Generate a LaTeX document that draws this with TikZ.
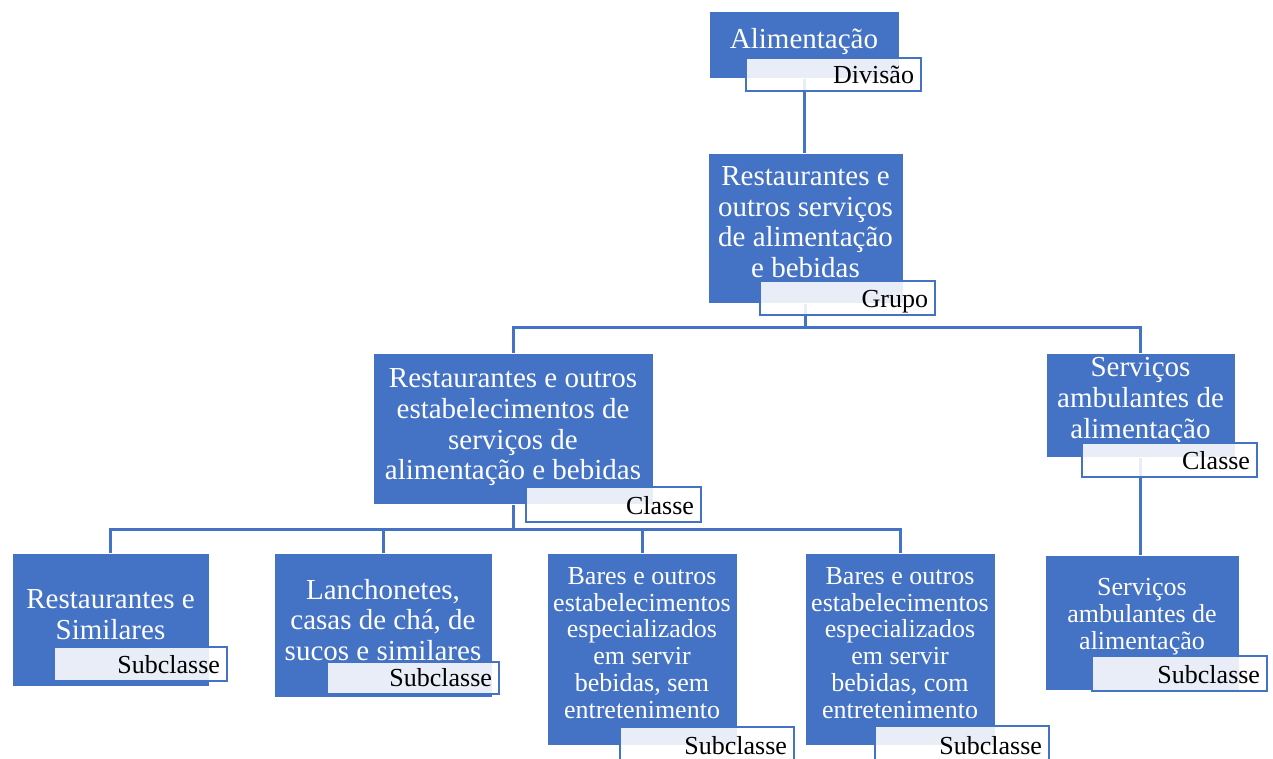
\documentclass[tikz,border=0pt]{standalone}
\usepackage{fontspec}
\setmainfont{Liberation Serif}
\usepackage{tikz}
\usetikzlibrary{fit}
\usetikzlibrary{backgrounds}

\definecolor{catblue}{HTML}{4472C4}

\tikzset{
		catbox/.style={draw=white, line width=1pt, fill=catblue, inner sep=0pt},
		cattext/.style={text=white, align=center, inner sep=0pt, font=\fontsize{29}{30.7}\selectfont},
		smalltxt/.style={font=\fontsize{26}{26.8}\selectfont},
		levelbox/.style={draw=catblue, line width=2.4pt, fill=white, fill opacity=0.88, inner sep=0pt},
		leveltext/.style={font=\fontsize{26}{28}\selectfont, text=black, inner sep=0pt, anchor=base east},
		link/.style={draw=catblue, line width=3pt}
}

\begin{document}
\begin{tikzpicture}[x=1pt, y=-1pt]
		\useasboundingbox (0,0) rectangle (1273,758);
		% caixas de categoria
		\node[catbox, fit={(709,11)(899,78)}](div){};
		\node[cattext](div-t) at ([yshift=3pt]div.center) {Alimentação};
		\node[catbox, fit={(708,153)(903,303)}](grp){};
		\node[cattext](grp-t) at ([yshift=6pt]grp.center) {Restaurantes e\\outros serviços\\de alimentação\\e bebidas};
		\node[catbox, fit={(373,353)(653,504)}](cls1){};
		\node[cattext](cls1-t) at ([yshift=1pt]cls1.center) {Restaurantes e outros\\estabelecimentos de\\serviços de\\alimentação e bebidas};
		\node[catbox, fit={(1046,353)(1235,457)}](cls2){};
		\node[cattext](cls2-t) at ([yshift=4pt]cls2.center) {Serviços\\ambulantes de\\alimentação};
		\node[catbox, fit={(12,553)(209,686)}](sub1){};
		\node[cattext](sub1-t) at ([yshift=5pt]sub1.center) {Restaurantes e\\Similares};
		\node[catbox, fit={(274,553)(492,697)}](sub2){};
		\node[cattext](sub2-t) at ([yshift=5pt]sub2.center) {Lanchonetes,\\casas de chá, de\\sucos e similares};
		\node[catbox, fit={(547,553)(737,745)}](sub3){};
		\node[cattext, smalltxt](sub3-t) at ([yshift=6pt]sub3.center) {Bares e outros\\estabelecimentos\\especializados\\em servir\\bebidas, sem\\entretenimento};
		\node[catbox, fit={(805,553)(995,745)}](sub4){};
		\node[cattext, smalltxt](sub4-t) at ([yshift=6pt]sub4.center) {Bares e outros\\estabelecimentos\\especializados\\em servir\\bebidas, com\\entretenimento};
		\node[catbox, fit={(1045,555)(1239,690)}](sub5){};
		\node[cattext, smalltxt](sub5-t) at ([yshift=6pt]sub5.center) {Serviços\\ambulantes de\\alimentação};

		% etiquetas de nivel
		\node[levelbox, fit={(746,58)(921,91)}](div-l){};
		\node[leveltext](div-lt) at ([shift={(-8pt,9pt)}]div-l.south east) {Divisão};
		\node[levelbox, fit={(760,281)(935,315)}](grp-l){};
		\node[leveltext](grp-lt) at ([shift={(-8pt,9pt)}]grp-l.south east) {Grupo};
		\node[levelbox, fit={(526,487)(701,522)}](cls1-l){};
		\node[leveltext](cls1-lt) at ([shift={(-8pt,9pt)}]cls1-l.south east) {Classe};
		\node[levelbox, fit={(1082,443)(1257,477)}](cls2-l){};
		\node[leveltext](cls2-lt) at ([shift={(-8pt,9pt)}]cls2-l.south east) {Classe};
		\node[levelbox, fit={(54,647)(227,681)}](sub1-l){};
		\node[leveltext](sub1-lt) at ([shift={(-8pt,9pt)}]sub1-l.south east) {Subclasse};
		\node[levelbox, fit={(327,662)(499,694)}](sub2-l){};
		\node[leveltext](sub2-lt) at ([shift={(-8pt,9pt)}]sub2-l.south east) {Subclasse};
		\node[levelbox, fit={(620,727)(794,762)}](sub3-l){};
		\node[leveltext](sub3-lt) at ([shift={(-8pt,9pt)}]sub3-l.south east) {Subclasse};
		\node[levelbox, fit={(875,726)(1049,762)}](sub4-l){};
		\node[leveltext](sub4-lt) at ([shift={(-8pt,9pt)}]sub4-l.south east) {Subclasse};
		\node[levelbox, fit={(1092,656)(1267,691)}](sub5-l){};
		\node[leveltext](sub5-lt) at ([shift={(-8pt,9pt)}]sub5-l.south east) {Subclasse};

		% ligacoes
		\begin{scope}[on background layer]
				\draw[link] (div.south) -- (div.south |- grp.north);
				\coordinate (bus1) at ([yshift=-24pt]grp.south);
				\draw[link] (grp.south) -- (bus1) -| (cls1.north);
				\draw[link] (bus1) -| (cls2.north);
				\coordinate (bus2) at ([yshift=-25pt]cls1.south);
				\draw[link] (cls1.south) -- (bus2);
				\draw[link] (bus2) -| (sub1.north);
				\draw[link] (bus2) -| (sub2.north);
				\draw[link] (bus2) -| (sub3.north);
				\draw[link] (bus2) -| (sub4.north);
				\draw[link] (cls2.south) -- (cls2.south |- sub5.north);
		\end{scope}
\end{tikzpicture}
\end{document}
